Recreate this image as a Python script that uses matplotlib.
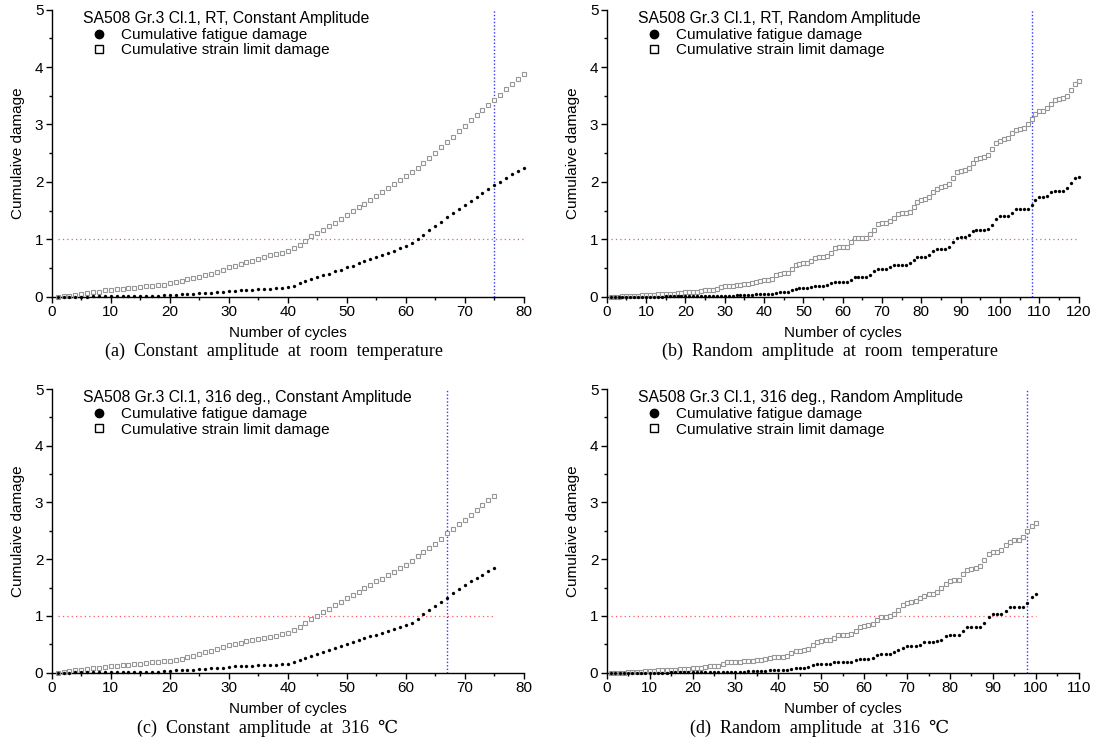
import numpy as np
import matplotlib
matplotlib.use("Agg")
import matplotlib.pyplot as plt
from matplotlib.lines import Line2D
from matplotlib.ticker import MultipleLocator

plt.rcParams['font.family'] = ['Liberation Sans', 'DejaVu Sans']

# ---------------- data ----------------
# (a) RT, constant amplitude
a_strain = [0.00, 0.01, 0.02, 0.03, 0.05, 0.06, 0.08, 0.09, 0.11, 0.12,
            0.13, 0.14, 0.15, 0.16, 0.17, 0.18, 0.19, 0.20, 0.21, 0.23,
            0.25, 0.27, 0.30, 0.32, 0.34, 0.37, 0.40, 0.43, 0.47, 0.51,
            0.54, 0.57, 0.60, 0.63, 0.66, 0.69, 0.72, 0.75, 0.77, 0.80,
            0.84, 0.90, 0.97, 1.05, 1.11, 1.17, 1.23, 1.29, 1.36, 1.43,
            1.49, 1.56, 1.62, 1.69, 1.76, 1.83, 1.89, 1.96, 2.03, 2.10,
            2.18, 2.25, 2.33, 2.42, 2.51, 2.60, 2.70, 2.79, 2.89, 2.98,
            3.07, 3.16, 3.25, 3.34, 3.43, 3.52, 3.61, 3.70, 3.79, 3.88]
a_fatigue = [0.00, 0.00, 0.00, 0.00, 0.00, 0.00, 0.01, 0.01, 0.01, 0.01,
             0.01, 0.01, 0.01, 0.01, 0.02, 0.02, 0.02, 0.02, 0.03, 0.03,
             0.03, 0.04, 0.04, 0.05, 0.06, 0.07, 0.07, 0.08, 0.09, 0.10,
             0.10, 0.11, 0.11, 0.12, 0.13, 0.13, 0.14, 0.15, 0.16, 0.17,
             0.19, 0.23, 0.27, 0.30, 0.34, 0.37, 0.40, 0.44, 0.47, 0.51,
             0.54, 0.58, 0.62, 0.65, 0.69, 0.72, 0.76, 0.80, 0.84, 0.88,
             0.93, 1.00, 1.08, 1.16, 1.23, 1.30, 1.38, 1.45, 1.52, 1.59,
             1.66, 1.73, 1.80, 1.87, 1.94, 2.00, 2.07, 2.13, 2.19, 2.25]

# (b) RT, random amplitude
b_strain = [0.00, 0.00, 0.00, 0.01, 0.01, 0.01, 0.01, 0.02, 0.03, 0.03,
            0.03, 0.03, 0.04, 0.04, 0.05, 0.05, 0.05, 0.06, 0.07, 0.08,
            0.08, 0.08, 0.09, 0.10, 0.11, 0.12, 0.12, 0.14, 0.17, 0.18,
            0.18, 0.19, 0.20, 0.21, 0.22, 0.22, 0.23, 0.25, 0.28, 0.29,
            0.29, 0.31, 0.37, 0.40, 0.41, 0.42, 0.48, 0.55, 0.57, 0.58,
            0.59, 0.62, 0.67, 0.69, 0.70, 0.71, 0.77, 0.84, 0.86, 0.86,
            0.86, 0.96, 1.02, 1.02, 1.02, 1.03, 1.09, 1.16, 1.26, 1.28,
            1.29, 1.32, 1.37, 1.44, 1.45, 1.46, 1.48, 1.56, 1.65, 1.69,
            1.70, 1.74, 1.82, 1.88, 1.91, 1.92, 1.97, 2.07, 2.18, 2.19,
            2.21, 2.24, 2.33, 2.40, 2.41, 2.43, 2.47, 2.57, 2.68, 2.72,
            2.74, 2.77, 2.85, 2.91, 2.93, 2.94, 3.00, 3.09, 3.19, 3.23,
            3.24, 3.29, 3.36, 3.43, 3.45, 3.46, 3.50, 3.60, 3.70, 3.75]
b_fatigue = [0.00, 0.00, 0.00, 0.00, 0.00, 0.00, 0.00, 0.00, 0.00, 0.00,
             0.00, 0.00, 0.00, 0.00, 0.01, 0.01, 0.01, 0.01, 0.01, 0.01,
             0.01, 0.01, 0.01, 0.01, 0.01, 0.02, 0.02, 0.02, 0.02, 0.02,
             0.02, 0.02, 0.03, 0.03, 0.03, 0.03, 0.03, 0.04, 0.04, 0.04,
             0.04, 0.05, 0.07, 0.08, 0.08, 0.08, 0.11, 0.14, 0.15, 0.15,
             0.15, 0.17, 0.19, 0.19, 0.19, 0.20, 0.23, 0.25, 0.26, 0.26,
             0.26, 0.29, 0.34, 0.34, 0.34, 0.34, 0.37, 0.44, 0.48, 0.48,
             0.48, 0.51, 0.55, 0.56, 0.56, 0.56, 0.59, 0.64, 0.69, 0.70,
             0.70, 0.72, 0.80, 0.83, 0.83, 0.83, 0.86, 0.96, 1.03, 1.04,
             1.04, 1.07, 1.15, 1.17, 1.17, 1.17, 1.18, 1.25, 1.35, 1.40,
             1.40, 1.40, 1.45, 1.52, 1.52, 1.52, 1.53, 1.59, 1.69, 1.74,
             1.74, 1.76, 1.82, 1.85, 1.85, 1.85, 1.90, 1.98, 2.07, 2.08]

# (c) 316 deg, constant amplitude
c_strain = [0.00, 0.02, 0.03, 0.04, 0.05, 0.07, 0.08, 0.09, 0.10, 0.11,
            0.12, 0.13, 0.14, 0.15, 0.16, 0.17, 0.18, 0.19, 0.20, 0.21,
            0.22, 0.24, 0.27, 0.30, 0.33, 0.36, 0.39, 0.42, 0.45, 0.48,
            0.50, 0.52, 0.55, 0.57, 0.59, 0.61, 0.63, 0.65, 0.68, 0.70,
            0.75, 0.81, 0.87, 0.94, 1.00, 1.07, 1.13, 1.19, 1.25, 1.31,
            1.37, 1.43, 1.49, 1.55, 1.61, 1.66, 1.72, 1.78, 1.84, 1.90,
            1.97, 2.05, 2.12, 2.20, 2.27, 2.35, 2.46, 2.54, 2.62, 2.70,
            2.78, 2.86, 2.95, 3.04, 3.12]
c_fatigue = [0.00, 0.00, 0.00, 0.01, 0.01, 0.01, 0.01, 0.01, 0.01, 0.01,
             0.01, 0.01, 0.02, 0.02, 0.02, 0.02, 0.02, 0.02, 0.03, 0.03,
             0.04, 0.04, 0.05, 0.05, 0.06, 0.07, 0.08, 0.09, 0.09, 0.10,
             0.11, 0.11, 0.12, 0.12, 0.13, 0.13, 0.14, 0.14, 0.15, 0.16,
             0.18, 0.22, 0.26, 0.29, 0.33, 0.36, 0.40, 0.44, 0.47, 0.51,
             0.54, 0.57, 0.61, 0.64, 0.67, 0.70, 0.74, 0.77, 0.80, 0.84,
             0.88, 0.95, 1.03, 1.10, 1.17, 1.24, 1.32, 1.40, 1.47, 1.55,
             1.61, 1.67, 1.73, 1.79, 1.84]

# (d) 316 deg, random amplitude
d_strain = [0.00, 0.00, 0.00, 0.00, 0.01, 0.02, 0.02, 0.02, 0.03, 0.03,
            0.03, 0.04, 0.04, 0.04, 0.05, 0.05, 0.06, 0.07, 0.07, 0.08,
            0.09, 0.09, 0.10, 0.11, 0.11, 0.12, 0.15, 0.18, 0.18, 0.19,
            0.19, 0.20, 0.21, 0.21, 0.22, 0.22, 0.24, 0.26, 0.27, 0.28,
            0.28, 0.30, 0.34, 0.38, 0.39, 0.40, 0.42, 0.48, 0.54, 0.56,
            0.57, 0.58, 0.62, 0.66, 0.67, 0.67, 0.68, 0.74, 0.80, 0.82,
            0.84, 0.86, 0.92, 0.98, 0.99, 1.00, 1.03, 1.11, 1.19, 1.22,
            1.24, 1.26, 1.32, 1.36, 1.38, 1.39, 1.43, 1.50, 1.57, 1.61,
            1.63, 1.64, 1.74, 1.81, 1.82, 1.84, 1.88, 1.98, 2.09, 2.12,
            2.13, 2.17, 2.25, 2.31, 2.33, 2.34, 2.39, 2.49, 2.59, 2.64]
d_fatigue = [0.00, 0.00, 0.00, 0.00, 0.00, 0.00, 0.00, 0.00, 0.00, 0.00,
             0.00, 0.00, 0.00, 0.00, 0.01, 0.01, 0.01, 0.01, 0.01, 0.01,
             0.01, 0.01, 0.01, 0.01, 0.01, 0.02, 0.02, 0.02, 0.02, 0.02,
             0.02, 0.02, 0.03, 0.03, 0.03, 0.03, 0.03, 0.04, 0.04, 0.04,
             0.04, 0.05, 0.07, 0.08, 0.08, 0.08, 0.10, 0.14, 0.15, 0.15,
             0.15, 0.16, 0.18, 0.18, 0.18, 0.18, 0.19, 0.23, 0.25, 0.25,
             0.25, 0.26, 0.32, 0.33, 0.33, 0.33, 0.36, 0.40, 0.44, 0.47,
             0.47, 0.47, 0.49, 0.54, 0.54, 0.54, 0.55, 0.58, 0.65, 0.67,
             0.67, 0.67, 0.73, 0.80, 0.80, 0.80, 0.81, 0.88, 0.99, 1.03,
             1.04, 1.04, 1.08, 1.15, 1.15, 1.15, 1.16, 1.22, 1.34, 1.38]

titles = ["SA508 Gr.3 Cl.1, RT, Constant Amplitude",
          "SA508 Gr.3 Cl.1, RT, Random Amplitude",
          "SA508 Gr.3 Cl.1, 316 deg., Constant Amplitude",
          "SA508 Gr.3 Cl.1, 316 deg., Random Amplitude"]
captions = ["(a)  Constant  amplitude  at  room  temperature",
            "(b)  Random  amplitude  at  room  temperature",
            "(c)  Constant  amplitude  at  316  \u2103",
            "(d)  Random  amplitude  at  316  \u2103"]
xmax_list = [80, 120, 80, 110]
life_list = [75, 108, 67, 98]
strains = [a_strain, b_strain, c_strain, d_strain]
fatigues = [a_fatigue, b_fatigue, c_fatigue, d_fatigue]
legend_labels = ["Cumulative fatigue damage", "Cumulative strain limit damage"]
xlabel = "Number of cycles"
ylabel = "Cumulaive damage"

# ---------------- figure ----------------
W, H = 1097, 749
fig = plt.figure(figsize=(W / 100, H / 100), dpi=100)
fig.patch.set_facecolor('white')

# axes rectangles in pixels: left, top, right, bottom
rects = [(51.7, 9.7, 523.7, 296.7),
         (606.7, 9.7, 1078.7, 296.7),
         (51.7, 389.0, 523.7, 672.7),
         (606.7, 389.0, 1078.7, 672.7)]
cap_pos = [(274, 351), (830, 351), (268, 728), (820, 728)]

for i in range(4):
    l, t, r, b = rects[i]
    ax = fig.add_axes([l / W, 1 - b / H, (r - l) / W, (b - t) / H])
    s = np.array(strains[i])
    f = np.array(fatigues[i])
    cyc = np.arange(1, len(s) + 1)
    ax.plot(cyc, s, linestyle='none', marker='s', ms=2.3, mfc='white',
            mec='#969696', mew=0.8, clip_on=False, zorder=3)
    ax.plot(cyc, f, linestyle='none', marker='o', ms=2.2, mfc='black',
            mec='black', mew=0.2, clip_on=False, zorder=4)
    ax.hlines(1.0, cyc[0], cyc[-1], colors='#ff5a5a', linestyles=(0, (1, 2.5)),
              linewidth=0.9, zorder=2)
    ax.axvline(life_list[i], color='#3434ff', linestyle=(0, (1, 1.5)),
               linewidth=1.0, zorder=2)

    ax.set_xlim(0, xmax_list[i])
    ax.set_ylim(0, 5)
    ax.xaxis.set_major_locator(MultipleLocator(10))
    ax.xaxis.set_minor_locator(MultipleLocator(5))
    ax.yaxis.set_major_locator(MultipleLocator(1))
    ax.yaxis.set_minor_locator(MultipleLocator(0.5))
    ax.tick_params(which='major', direction='out', length=4, width=1,
                   labelsize=11, pad=2)
    ax.tick_params(which='minor', direction='out', length=2.5, width=1)
    for sp in ['top', 'right']:
        ax.spines[sp].set_visible(False)
    for sp in ['left', 'bottom']:
        ax.spines[sp].set_linewidth(1.0)
    ax.set_xlabel(xlabel, fontsize=11, labelpad=5)
    ax.set_ylabel(ylabel, fontsize=11, labelpad=7)

    handles = [Line2D([], [], linestyle='none', marker='o', ms=6,
                      mfc='black', mec='black'),
               Line2D([], [], linestyle='none', marker='s', ms=5.5,
                      mfc='white', mec='black', mew=1.0)]
    leg = ax.legend(handles, legend_labels, title=titles[i], loc='upper left',
                    bbox_to_anchor=(0.05, 1.022), frameon=False, fontsize=11,
                    title_fontsize=11.3, handlelength=2.1, handletextpad=0.4,
                    labelspacing=0.07, borderpad=0.0, alignment='left')
    leg._legend_box.sep = 1.5

    cx, cy = cap_pos[i]
    fig.text(cx / W, 1 - cy / H, captions[i], ha='center', va='center',
             fontsize=13, family=['Liberation Serif', 'DejaVu Serif'])

fig.savefig('out.png', dpi=100, facecolor='white')
